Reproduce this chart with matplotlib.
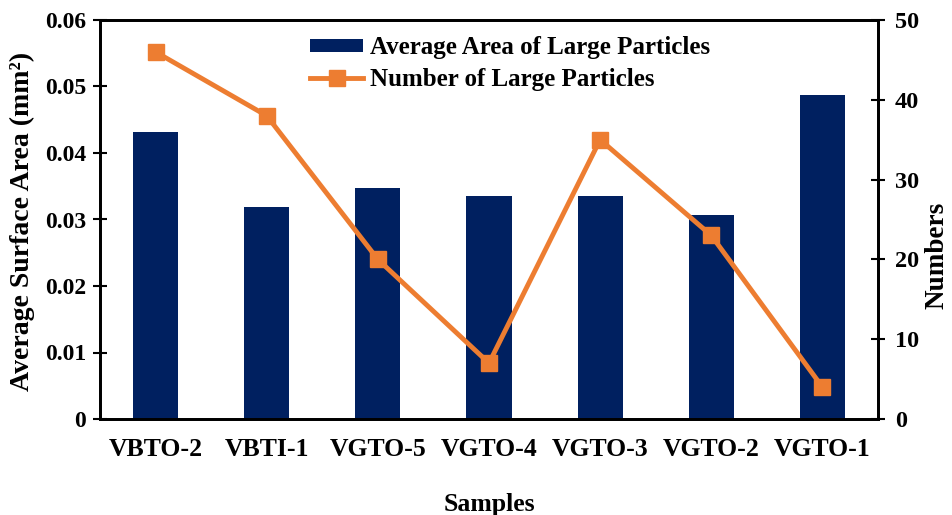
import matplotlib
matplotlib.use("Agg")
import matplotlib.pyplot as plt
import numpy as np

samples = ["VBTO-2", "VBTI-1", "VGTO-5", "VGTO-4", "VGTO-3", "VGTO-2", "VGTO-1"]
avg_area = [0.0432, 0.0319, 0.0347, 0.0335, 0.0335, 0.0307, 0.0487]
numbers = [46, 38, 20, 7, 35, 23, 4]

plt.rcParams['font.family'] = ['Liberation Serif', 'DejaVu Serif']
plt.rcParams['font.weight'] = 'bold'

fig = plt.figure(figsize=(9.52, 5.15), dpi=100)
ax = fig.add_axes([100/952, 1-419/515, 778/952, 399/515])
x = np.arange(len(samples))
bars = ax.bar(x, avg_area, width=0.405, color='#002060', label='Average Area of Large Particles', zorder=2)
ax.set_ylim(0, 0.06)
ax.set_xlim(-0.5, len(samples)-0.5)
ax.set_yticks([0, 0.01, 0.02, 0.03, 0.04, 0.05, 0.06])
ax.set_yticklabels(["0", "0.01", "0.02", "0.03", "0.04", "0.05", "0.06"])
ax.set_xticks(x)
ax.set_xticklabels(samples)
ax.tick_params(axis='x', length=0, pad=14, labelsize=18.5)
ax.tick_params(axis='y', direction='inout', length=10, width=1.5, labelsize=17, pad=5)
for s in ax.spines.values():
    s.set_linewidth(2)
ax.set_ylabel("Average Surface Area (mm²)", fontsize=20, fontweight='bold')
ax.yaxis.set_label_coords(-0.084, 0.496)
ax.set_xlabel("Samples", fontsize=18.5, fontweight='bold')
ax.xaxis.set_label_coords(0.5, -0.186)

ax2 = ax.twinx()
line, = ax2.plot(x, numbers, color='#ED7D31', lw=3.5, marker='s', markersize=11,
                 label='Number of Large Particles', zorder=3)
ax2.set_ylim(0, 50)
ax2.set_yticks([0, 10, 20, 30, 40, 50])
ax2.tick_params(axis='y', direction='inout', length=10, width=1.5, labelsize=17.5, pad=7)
for s in ax2.spines.values():
    s.set_linewidth(2)
ax2.set_ylabel("Numbers", fontsize=19.5, fontweight='bold')
ax2.yaxis.set_label_coords(1.0595, 0.41)

leg = ax.legend([bars, line], ['Average Area of Large Particles', 'Number of Large Particles'],
                loc='upper left', bbox_to_anchor=(0.251, 0.997), frameon=False,
                prop={'family': 'Liberation Serif', 'weight': 'bold', 'size': 18},
                handlelength=2.1, handleheight=0.45, handletextpad=0.3,
                labelspacing=0.35, borderaxespad=0.2)

fig.savefig("out.png", dpi=100)
